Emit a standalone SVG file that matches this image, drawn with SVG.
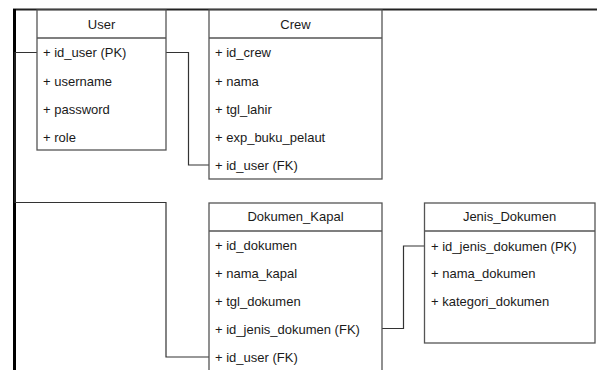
<svg xmlns="http://www.w3.org/2000/svg" width="597" height="370" viewBox="0 0 597 370">
<defs>
<style>
.box{fill:#fff;stroke:#555;stroke-width:1.3}
.sep{stroke:#555;stroke-width:1.3}
.t{font-family:"Liberation Sans",Arial,sans-serif;font-size:13px;fill:#1a1a1a}
.h{text-anchor:middle}
.c{fill:none;stroke:#333;stroke-width:1.2}
</style>
<marker id="arr" viewBox="0 0 10 10" refX="10" refY="5" markerWidth="6" markerHeight="6" orient="auto" markerUnits="userSpaceOnUse">
<path d="M0,1 L10,5 L0,9 z" fill="#333"/>
</marker>
</defs>
<rect width="597" height="370" fill="#fff"/>
<g id="frame">
<line x1="13" y1="9.5" x2="597" y2="9.5" stroke="#222" stroke-width="2"/>
<line x1="14.5" y1="9" x2="14.5" y2="370" stroke="#000" stroke-width="3"/>
</g>
<g id="connectors">
<path class="c" d="M166,52.5 H188.5 V165 H209"/>
<path class="c" d="M37,52.5 H15 V202.5 H166 V357 H209"/>
<path class="c" d="M382,328.5 H403.5 V246 H437" marker-end="url(#arr)"/>
</g>
<g id="user">
<rect class="box" x="37" y="10" width="129" height="140"/>
<line class="sep" x1="37" y1="38" x2="166" y2="38"/>
<text class="t h" x="101.5" y="28.5">User</text>
<text class="t" x="43" y="57">+ id_user (PK)</text>
<text class="t" x="43" y="85.5">+ username</text>
<text class="t" x="43" y="114">+ password</text>
<text class="t" x="43" y="142">+ role</text>
</g>
<g id="crew">
<rect class="box" x="209" y="10" width="173" height="169"/>
<line class="sep" x1="209" y1="38" x2="382" y2="38"/>
<text class="t h" x="295.5" y="28.5">Crew</text>
<text class="t" x="215" y="57">+ id_crew</text>
<text class="t" x="215" y="85.5">+ nama</text>
<text class="t" x="215" y="114">+ tgl_lahir</text>
<text class="t" x="215" y="142">+ exp_buku_pelaut</text>
<text class="t" x="215" y="170">+ id_user (FK)</text>
</g>
<g id="dokumen_kapal">
<rect class="box" x="209" y="203" width="173" height="180"/>
<line class="sep" x1="209" y1="231" x2="382" y2="231"/>
<text class="t h" x="295.5" y="221">Dokumen_Kapal</text>
<text class="t" x="215" y="249.5">+ id_dokumen</text>
<text class="t" x="215" y="278">+ nama_kapal</text>
<text class="t" x="215" y="306">+ tgl_dokumen</text>
<text class="t" x="215" y="333.5">+ id_jenis_dokumen (FK)</text>
<text class="t" x="215" y="361.5">+ id_user (FK)</text>
</g>
<g id="jenis_dokumen">
<rect class="box" x="424.5" y="203" width="170.5" height="140"/>
<line class="sep" x1="424.5" y1="231" x2="595" y2="231"/>
<text class="t h" x="509.5" y="221">Jenis_Dokumen</text>
<text class="t" x="431" y="250.5">+ id_jenis_dokumen (PK)</text>
<text class="t" x="431" y="278">+ nama_dokumen</text>
<text class="t" x="431" y="306">+ kategori_dokumen</text>
</g>
</svg>
